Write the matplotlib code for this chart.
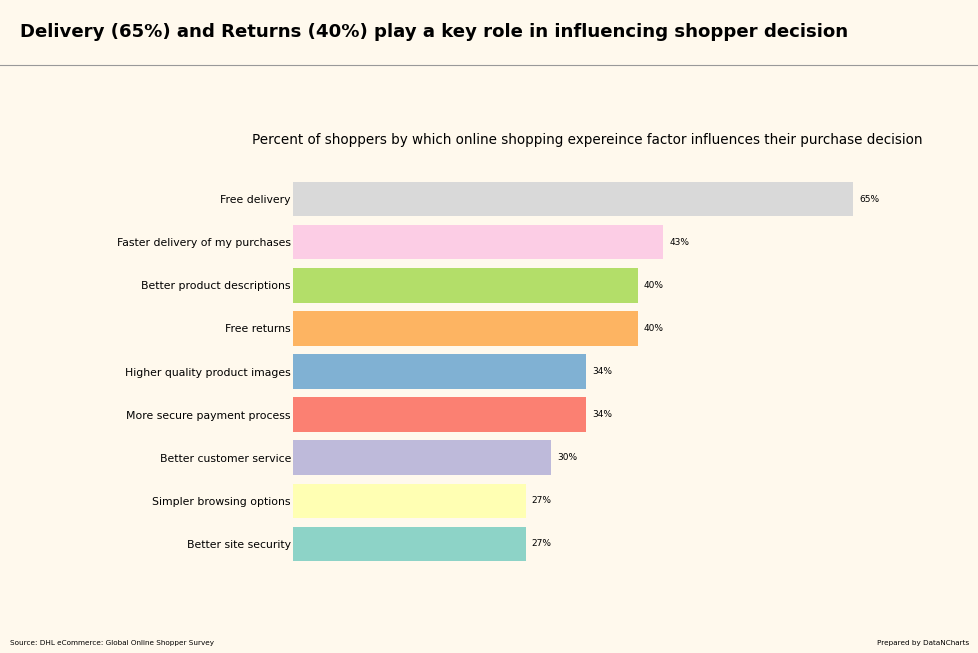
import matplotlib
matplotlib.use("Agg")
import matplotlib.pyplot as plt
from matplotlib.lines import Line2D

categories = ["Better site security", "Simpler browsing options", "Better customer service",
              "More secure payment process", "Higher quality product images", "Free returns",
              "Better product descriptions", "Faster delivery of my purchases", "Free delivery"]
values = [27, 27, 30, 34, 34, 40, 40, 43, 65]
colors = ["#8dd3c7", "#ffffb3", "#bebada", "#fb8072", "#80b1d3", "#fdb462",
          "#b3de69", "#fccde5", "#d9d9d9"]

bg = "#fff9ed"
fig = plt.figure(figsize=(9.79, 6.53), dpi=100, facecolor=bg)
ax = fig.add_axes([293/979, 1-580/653, (881-293)/979, (580-163)/653])
ax.set_facecolor(bg)
y = list(range(len(categories)))
ax.barh(y, values, color=colors, height=0.8)
ax.set_yticks(y)
ax.set_yticklabels(categories, fontsize=7.8)
ax.set_xticks([])
ax.set_xlim(0, max(values) * 1.05)
for s in ax.spines.values():
    s.set_visible(False)
ax.tick_params(axis="y", length=0, pad=1.5)
for yi, v in zip(y, values):
    ax.text(v + 0.7, yi, f"{v}%", va="center", ha="left", fontsize=6.5)

ax.set_title("Percent of shoppers by which online shopping expereince factor influences their purchase decision",
             fontsize=9.75, pad=13.5)

fig.text(20/979, 1-32/653, "Delivery (65%) and Returns (40%) play a key role in influencing shopper decision",
         fontsize=13.1, fontweight="bold", va="center", ha="left")
fig.add_artist(Line2D([0, 1], [1-65/653, 1-65/653], transform=fig.transFigure, color="#999999", lw=0.8))
fig.text(10/979, 1-643/653, "Source: DHL eCommerce: Global Online Shopper Survey", fontsize=5.2, va="center", ha="left")
fig.text(969/979, 1-643/653, "Prepared by DataNCharts", fontsize=5.2, va="center", ha="right")

fig.savefig("out.png", dpi=100, facecolor=bg)
